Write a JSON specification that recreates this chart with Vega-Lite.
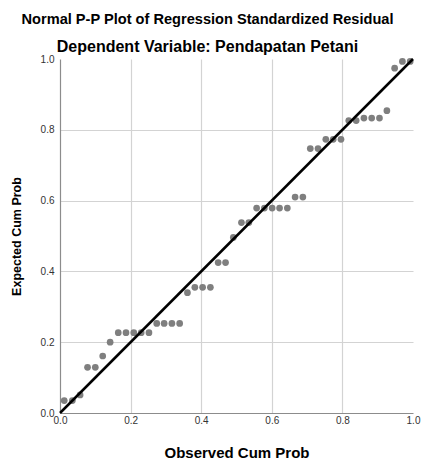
{
  "$schema": "https://vega.github.io/schema/vega-lite/v6.json",
  "width": 353,
  "height": 354,
  "autosize": {"type": "none"},
  "padding": {"left": 60, "top": 59, "right": 9, "bottom": 51},
  "background": "white",
  "title": {
    "text": "Normal P-P Plot of Regression Standardized Residual",
    "subtitle": "Dependent Variable: Pendapatan Petani",
    "anchor": "middle",
    "frame": "group",
    "dx": -29,
    "offset": -1,
    "font": "Liberation Sans",
    "fontSize": 14.6,
    "fontWeight": "bold",
    "color": "#000000",
    "subtitleFont": "Liberation Sans",
    "subtitleFontSize": 16,
    "subtitleFontWeight": "bold",
    "subtitleColor": "#000000",
    "subtitlePadding": 12
  },
  "config": {
    "view": {"stroke": null},
    "axis": {
      "grid": true,
      "gridColor": {"condition": {"test": "datum.value == 0 || datum.value == 1", "value": "transparent"}, "value": "#d3d3d3"},
      "gridWidth": 1.2,
      "domainColor": "#8c8c8c",
      "domainWidth": 1.2,
      "ticks": false,
      "labelFont": "Liberation Sans",
      "labelFontSize": 10,
      "labelColor": "#333333",
      "titleFont": "Liberation Sans",
      "titleFontWeight": "bold",
      "titleColor": "#000000"
    }
  },
  "layer": [
    {
      "data": {"values": [
        {"obs": 0.012, "exp": 0.035}, {"obs": 0.035, "exp": 0.035}, {"obs": 0.057, "exp": 0.051},
        {"obs": 0.078, "exp": 0.129}, {"obs": 0.100, "exp": 0.129}, {"obs": 0.121, "exp": 0.161},
        {"obs": 0.142, "exp": 0.200},
        {"obs": 0.165, "exp": 0.227}, {"obs": 0.187, "exp": 0.227}, {"obs": 0.209, "exp": 0.227}, {"obs": 0.230, "exp": 0.227}, {"obs": 0.252, "exp": 0.227},
        {"obs": 0.274, "exp": 0.253}, {"obs": 0.295, "exp": 0.253}, {"obs": 0.317, "exp": 0.253}, {"obs": 0.339, "exp": 0.253},
        {"obs": 0.361, "exp": 0.340},
        {"obs": 0.382, "exp": 0.355}, {"obs": 0.404, "exp": 0.355}, {"obs": 0.426, "exp": 0.355},
        {"obs": 0.448, "exp": 0.425}, {"obs": 0.469, "exp": 0.425},
        {"obs": 0.491, "exp": 0.496},
        {"obs": 0.514, "exp": 0.538}, {"obs": 0.535, "exp": 0.538},
        {"obs": 0.557, "exp": 0.579}, {"obs": 0.579, "exp": 0.579}, {"obs": 0.601, "exp": 0.579}, {"obs": 0.622, "exp": 0.579}, {"obs": 0.644, "exp": 0.579},
        {"obs": 0.666, "exp": 0.610}, {"obs": 0.688, "exp": 0.610},
        {"obs": 0.709, "exp": 0.747}, {"obs": 0.731, "exp": 0.747},
        {"obs": 0.753, "exp": 0.773}, {"obs": 0.774, "exp": 0.773}, {"obs": 0.796, "exp": 0.773},
        {"obs": 0.818, "exp": 0.826}, {"obs": 0.839, "exp": 0.826},
        {"obs": 0.861, "exp": 0.833}, {"obs": 0.883, "exp": 0.833}, {"obs": 0.905, "exp": 0.833},
        {"obs": 0.926, "exp": 0.854},
        {"obs": 0.948, "exp": 0.974},
        {"obs": 0.970, "exp": 0.993}, {"obs": 0.992, "exp": 0.993}
      ]},
      "mark": {"type": "point", "filled": true, "size": 45, "color": "#7f7f7f", "opacity": 1},
      "encoding": {
        "x": {"field": "obs", "type": "quantitative", "scale": {"domain": [0, 1], "nice": false},
          "axis": {"title": "Observed Cum Prob", "values": [0, 0.2, 0.4, 0.6, 0.8, 1.0], "format": ".1f", "labelPadding": 2, "titleFontSize": 15, "titlePadding": 20, "labelFlush": false}},
        "y": {"field": "exp", "type": "quantitative", "scale": {"domain": [0, 1], "nice": false},
          "axis": {"title": "Expected Cum Prob", "values": [0, 0.2, 0.4, 0.6, 0.8, 1.0], "format": ".1f", "labelPadding": 6, "titleFontSize": 12.5, "titlePadding": 17, "labelFlush": false}}
      }
    },
    {
      "data": {"values": [{"obs": 0, "exp": 0}, {"obs": 1, "exp": 1}]},
      "mark": {"type": "line", "color": "#000000", "strokeWidth": 2.5},
      "encoding": {
        "x": {"field": "obs", "type": "quantitative"},
        "y": {"field": "exp", "type": "quantitative"}
      }
    }
  ]
}
